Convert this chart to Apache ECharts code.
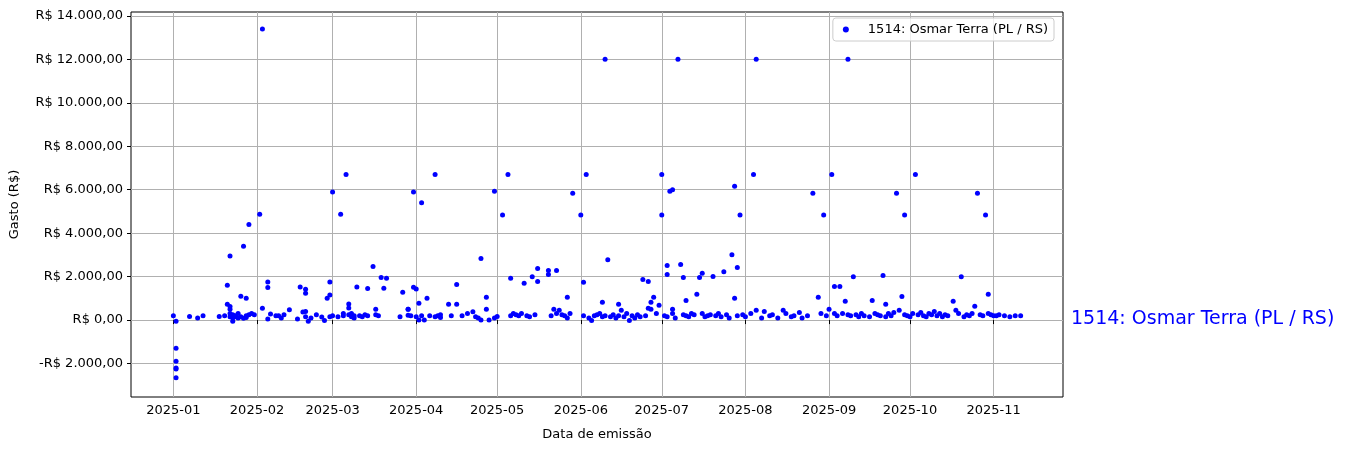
<!DOCTYPE html>
<html lang="pt-BR">
<head>
    <meta charset="UTF-8">
    <title>Gastos</title>
    <script src="https://cdn.jsdelivr.net/npm/echarts@6/dist/echarts.min.js"></script>
</head>
<body style="margin:0">
    <div id="box" style="width:1350px;height:449px;background:white"></div>
    <script>
        // dias contados a partir de 2025-01-01 e valor gasto (R$)
        var days = [0, 1, 1, 1, 1, 1, 1, 6, 9, 11, 17, 19,
            20, 20, 21, 21, 21, 21, 21, 22, 22, 22, 23, 23, 24, 24, 25, 25, 26, 26, 27, 27, 27, 28, 28, 29, 30,
            32, 33, 33, 35, 35, 35, 36, 38, 39, 40, 41, 43, 46, 47, 48, 49, 49, 49, 49, 50, 51, 53, 55, 56,
            57, 58, 58, 58, 59, 59, 61, 62, 63, 63, 64, 65, 65, 65, 66, 66, 67, 67, 68, 69, 70, 71, 72, 72,
            74, 75, 75, 76, 77, 78, 79, 84, 85, 87, 87, 87, 88, 89, 89, 90, 90, 91, 91, 92, 92, 93, 94, 95, 97, 97, 98,
            99, 99, 102, 103, 105, 105, 107, 109, 111, 112, 113, 114, 114, 116, 116, 117, 119, 119, 120, 122, 124,
            125, 125, 126, 127, 128, 129, 130, 131, 132, 133, 134, 135, 135, 139, 139, 140, 141, 142, 142, 143, 144, 145, 146, 146, 147,
            148, 151, 152, 152, 153, 154, 155, 156, 157, 158, 159, 159, 160, 161,
            162, 163, 164, 165, 165, 166, 167, 168, 169, 170, 171, 172, 173, 174, 175, 176, 176, 177, 177, 178, 179, 180, 181,
            181, 182, 183, 183, 183, 184, 185, 185, 185, 186, 187, 188, 189, 189, 190, 190, 191, 192, 193, 194, 195,
            196, 196, 197, 198, 199, 200, 201, 202, 203, 204, 205, 206, 207, 208, 208, 209, 209, 210, 211, 212,
            214, 215, 216, 216, 218, 219, 221, 222, 224, 226, 227, 229, 230, 232, 233, 235, 237,
            239, 240, 241, 242, 243, 244, 245, 245, 246, 247, 248, 249, 250, 250, 251, 252, 253, 254, 255, 256,
            258, 259, 260, 261, 262, 263, 264, 264, 265, 266, 267, 268, 269, 270, 271, 271, 272, 273, 274, 275,
            276, 277, 278, 279, 280, 281, 282, 283, 284, 285, 286, 287, 289, 290, 291, 292, 293, 294, 295, 296,
            297, 298, 299, 300, 301, 302, 302, 303, 304, 305, 306, 308, 310, 312, 314, 160];
        var values = [200, -50, -1300, -1900, -2200, -2250, -2650, 170, 100, 200, 170, 200,
            1600, 730, 2950, 500, 620, 300, 150, 100, 250, -50, 200, 150, 100, 300, 1100, 150, 3400, 80, 1000, 200, 120, 4400, 250, 300, 250,
            4870, 13400, 550, 1750, 1500, 50, 280, 200, 200, 100, 250, 480, 50, 1520, 370, 1420, 1230, 400, 150, -50, 100, 250, 140, -20,
            1000, 1750, 1150, 150, 5900, 200, 150, 4870, 300, 200, 6700, 740, 560, 250, 150, 300, 200, 100, 1520, 200, 150, 250, 1450, 200,
            2470, 500, 250, 200, 1960, 1460, 1920, 150, 1280, 500, 220, 500, 200, 5900, 1510, 1430, 150, 780, 0, 5400, 200, 0, 1000, 200, 150, 6700, 200,
            120, 250, 730, 200, 730, 1640, 200, 300, 380, 150, 100, 0, 2830, 1050, 500, 0, 5930, 100, 170, 4840, 6700,
            200, 1920, 300, 250, 200, 300, 1690, 200, 150, 2000, 250, 2370, 1780, 2280, 2100, 200, 500, 2280, 300, 450, 250, 200, 1050, 100, 300,
            5840, 4840, 1740, 200, 6700, 100, -20, 200, 250, 300, 820, 150, 200, 2780,
            150, 250, 100, 730, 200, 450, 150, 300, -20, 200, 100, 250, 150, 1870, 200, 1780, 550, 820, 500, 1050, 300, 680, 4840,
            6700, 200, 2510, 2100, 150, 5930, 6000, 300, 500, 100, 12000, 2560, 250, 1960, 900, 200, 150, 300, 250, 1190,
            1960, 2150, 300, 150, 200, 250, 2010, 200, 300, 150, 2220, 250, 100, 3010, 1000, 6160, 200, 2420, 4840, 250,
            150, 300, 6700, 450, 12000, 100, 400, 200, 250, 100, 450, 300, 150, 200, 350, 100, 200,
            5840, 1050, 300, 4840, 200, 500, 6700, 300, 1550, 200, 1550, 300, 870, 250, 12000, 200, 2000, 250, 150, 300,
            200, 150, 900, 300, 250, 200, 2050, 730, 150, 300, 200, 350, 5840, 450, 1090, 250, 4840, 200, 150, 300,
            6700, 250, 350, 200, 150, 300, 250, 400, 200, 300, 150, 250, 200, 870, 450, 300, 2000, 150, 250, 200,
            300, 640, 5840, 250, 200, 4840, 1190, 300, 250, 200, 200, 250, 200, 150, 200, 200, 12000];
        var yTicks = [-2000, 0, 2000, 4000, 6000, 8000, 10000, 12000, 14000];
        var monthTicks = ['2025-01-01', '2025-02-01', '2025-03-01', '2025-04-01', '2025-05-01', '2025-06-01',
            '2025-07-01', '2025-08-01', '2025-09-01', '2025-10-01', '2025-11-01'];
        var seriesName = '1514: Osmar Terra (PL / RS)';

        var DAY = 86400000, T0 = Date.UTC(2025, 0, 1);
        var points = days.map(function (d, i) { return [T0 + d * DAY, values[i]]; });
        var xTicks = monthTicks.map(function (s) { return Date.parse(s + 'T00:00:00Z'); });

        function brl(v) {
            var s = Math.abs(v).toFixed(2).split('.');
            var inteiro = s[0].replace(/\B(?=(\d{3})+(?!\d))/g, '.');
            return (v < 0 ? '-' : '') + 'R$ ' + inteiro + ',' + s[1];
        }
        function ym(t) {
            var d = new Date(t);
            return d.getUTCFullYear() + '-' + String(d.getUTCMonth() + 1).padStart(2, '0');
        }

        var chart = echarts.init(document.getElementById('box'));
        var font = 'DejaVu Sans';
        chart.setOption({
            animation: false,
            textStyle: { fontFamily: font },
            grid: { left: 131, right: 287, top: 12, bottom: 52, show: true, borderColor: '#000', borderWidth: 1, backgroundColor: 'transparent' },
            legend: {
                right: 296, top: 18, orient: 'vertical',
                itemWidth: 6, itemHeight: 6, icon: 'circle', itemGap: 6,
                textStyle: { fontSize: 13, color: '#000', padding: [0, 0, 0, 14] },
                padding: [5, 6, 5, 10], borderColor: '#ccc', borderWidth: 1, borderRadius: 3, backgroundColor: 'rgba(255,255,255,0.8)',
                data: [seriesName]
            },
            xAxis: {
                type: 'value', min: T0 - 15.7 * DAY, max: T0 + 329.7 * DAY,
                name: 'Data de emissão', nameLocation: 'middle', nameGap: 31,
                nameTextStyle: { fontSize: 13, color: '#000' },
                axisLine: { show: false },
                axisTick: { show: true, customValues: xTicks, lineStyle: { color: '#000' }, length: 4 },
                axisLabel: { customValues: xTicks, formatter: ym, color: '#000', fontSize: 13, margin: 7 },
                splitLine: { show: true, lineStyle: { color: '#b0b0b0' } }
            },
            yAxis: {
                type: 'value', min: -3540, max: 14180,
                name: 'Gasto (R$)', nameLocation: 'middle', nameGap: 110, nameRotate: 90,
                nameTextStyle: { fontSize: 13, color: '#000' },
                axisLine: { show: false },
                axisTick: { show: true, customValues: yTicks, lineStyle: { color: '#000' }, length: 4 },
                axisLabel: { customValues: yTicks, formatter: brl, color: '#000', fontSize: 13, margin: 8 },
                splitLine: { show: true, lineStyle: { color: '#b0b0b0' } }
            },
            graphic: [{
                type: 'text', left: 1071, top: 310,
                style: { text: seriesName, fill: '#0000ff', fontSize: 19, fontFamily: font }
            }],
            series: [{
                name: seriesName, type: 'scatter', symbolSize: 5,
                itemStyle: { color: '#0000ff', opacity: 1 },
                data: points
            }]
        });
    </script>
</body>
</html>
